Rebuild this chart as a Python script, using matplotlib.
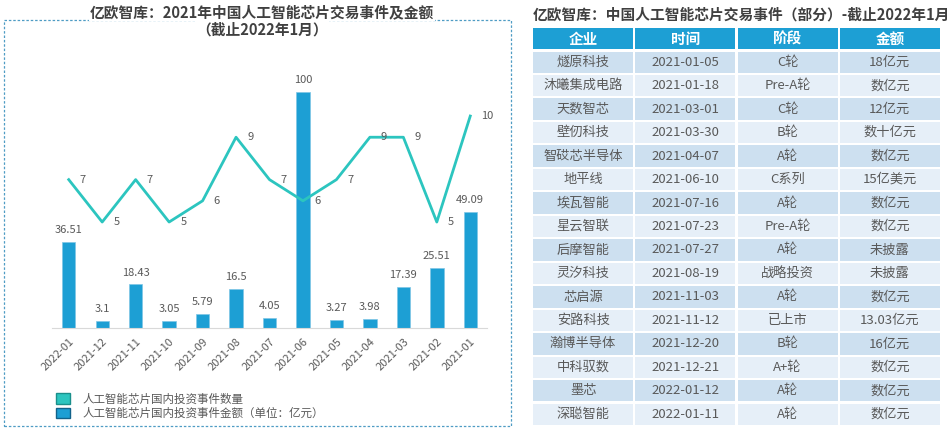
import matplotlib.pyplot as plt
from matplotlib.patches import Rectangle, Patch

plt.rcParams['font.family'] = ['Noto Sans CJK SC', 'DejaVu Sans']

# chart data (months shown newest first, like the original)
months = ['2022-01', '2021-12', '2021-11', '2021-10', '2021-09', '2021-08', '2021-07',
          '2021-06', '2021-05', '2021-04', '2021-03', '2021-02', '2021-01']
amounts = [36.51, 3.1, 18.43, 3.05, 5.79, 16.5, 4.05, 100, 3.27, 3.98, 17.39, 25.51, 49.09]
counts = [7, 5, 7, 5, 6, 9, 7, 6, 7, 9, 9, 5, 10]
amount_labels = ['36.51', '3.1', '18.43', '3.05', '5.79', '16.5', '4.05', '100', '3.27', '3.98', '17.39', '25.51', '49.09']

# table data
table_header = ['企业', '时间', '阶段', '金额']
companies = ['燧原科技', '沐曦集成电路', '天数智芯', '壁仞科技', '智砹芯半导体', '地平线', '埃瓦智能',
             '星云智联', '后摩智能', '灵汐科技', '芯启源', '安路科技', '瀚博半导体', '中科驭数', '墨芯', '深聪智能']
dates = ['2021-01-05', '2021-01-18', '2021-03-01', '2021-03-30', '2021-04-07', '2021-06-10', '2021-07-16',
         '2021-07-23', '2021-07-27', '2021-08-19', '2021-11-03', '2021-11-12', '2021-12-20', '2021-12-21',
         '2022-01-12', '2022-01-11']
stages = ['C轮', 'Pre-A轮', 'C轮', 'B轮', 'A轮', 'C系列', 'A轮', 'Pre-A轮', 'A轮', '战略投资', 'A轮',
          '已上市', 'B轮', 'A+轮', 'A轮', 'A轮']
money = ['18亿元', '数亿元', '12亿元', '数十亿元', '数亿元', '15亿美元', '数亿元', '数亿元', '未披露',
         '未披露', '数亿元', '13.03亿元', '16亿元', '数亿元', '数亿元', '数亿元']

BAR = '#1d9fd4'
LINE = '#2cc5bf'
TXT = '#595959'

W, H = 952, 429
fig = plt.figure(figsize=(W / 100, H / 100), dpi=100)

def fbox(x0, y0, x1, y1):
    # pixel box (top-left origin) -> figure fraction rect
    return [x0 / W, 1 - y1 / H, (x1 - x0) / W, (y1 - y0) / H]

# dashed frame around the chart panel
frame = Rectangle((4 / W, 1 - 426 / H), 507 / W, 406 / H, transform=fig.transFigure,
                  fill=False, edgecolor='#4f9cc4', linestyle=(0, (2, 1.5)), linewidth=0.9)
fig.add_artist(frame)

fig.text(262 / W, 1 - 12 / H, '亿欧智库：2021年中国人工智能芯片交易事件及金额', ha='center', va='center',
         fontsize=10.6, fontweight='bold', color='#404040',
         bbox=dict(facecolor='white', edgecolor='none', pad=1))
fig.text(262 / W, 1 - 30 / H, '（截止2022年1月）', ha='center', va='center',
         fontsize=10.6, fontweight='bold', color='#404040',
         bbox=dict(facecolor='white', edgecolor='none', pad=1))

ax = fig.add_axes(fbox(52, 80, 487, 328))
x = range(len(months))
ax.bar(x, amounts, width=0.4, color=BAR, edgecolor='#7fc6e6', linewidth=0.5, zorder=2)
ax.set_ylim(0, 105)
ax.set_xlim(-0.5, len(months) - 0.5)
for i, (v, lab) in enumerate(zip(amounts, amount_labels)):
    ax.annotate(lab, (i, v), xytext=(0, 5), textcoords='offset points', ha='center', va='bottom',
                fontsize=8, color=TXT)
ax.set_yticks([])
ax.set_xticks(list(x))
ax.set_xticklabels(months, rotation=45, ha='right', rotation_mode='anchor', fontsize=8, color=TXT)
ax.tick_params(axis='x', length=0, pad=6)
for s in ['top', 'right', 'left']:
    ax.spines[s].set_visible(False)
ax.spines['bottom'].set_color('#d9d9d9')
ax.patch.set_alpha(0)

ax2 = ax.twinx()
ax2.plot(list(x), counts, color=LINE, linewidth=2, zorder=3)
ax2.set_ylim(0, 11.7)
for i, v in enumerate(counts):
    ax2.annotate(str(v), (i, v), xytext=(8, 0), textcoords='offset points', ha='left', va='center',
                 fontsize=8, color=TXT)
ax2.set_yticks([])
for s in ax2.spines.values():
    s.set_visible(False)

handles = [Patch(facecolor=LINE, edgecolor='#1a8f8b'), Patch(facecolor=BAR, edgecolor='#12628a')]
fig.legend(handles, ['人工智能芯片国内投资事件数量', '人工智能芯片国内投资事件金额（单位：亿元）'],
           loc='lower left', bbox_to_anchor=(46 / W, 1 - 430 / H), frameon=False, fontsize=8.3,
           handlelength=1.2, handleheight=1.0, handletextpad=1.1, labelspacing=0.1, labelcolor=TXT)

# table on the right
fig.text(533 / W, 1 - 15 / H, '亿欧智库：中国人工智能芯片交易事件（部分）-截止2022年1月', ha='left', va='center',
         fontsize=10.6, fontweight='bold', color='#404040')

tx = fig.add_axes(fbox(532, 27, 941, 426))
n_rows = len(companies) + 1
tx.set_xlim(0, 4)
tx.set_ylim(n_rows, 0)
tx.axis('off')
gx, gy = 0.01, 0.045
for c, head in enumerate(table_header):
    tx.add_patch(Rectangle((c + gx, gy), 1 - 2 * gx, 1 - 2 * gy, facecolor=BAR, edgecolor='none'))
    tx.text(c + 0.5, 0.5, head, ha='center', va='center', fontsize=10.5, fontweight='bold', color='white')
for r, row in enumerate(zip(companies, dates, stages, money)):
    fc = '#cde0f0' if r % 2 == 0 else '#e6eff8'
    for c, val in enumerate(row):
        tx.add_patch(Rectangle((c + gx, r + 1 + gy), 1 - 2 * gx, 1 - 2 * gy, facecolor=fc, edgecolor='none'))
        tx.text(c + 0.5, r + 1.5, val, ha='center', va='center', fontsize=9.5, color=TXT)

fig.savefig('out.png', dpi=100)
